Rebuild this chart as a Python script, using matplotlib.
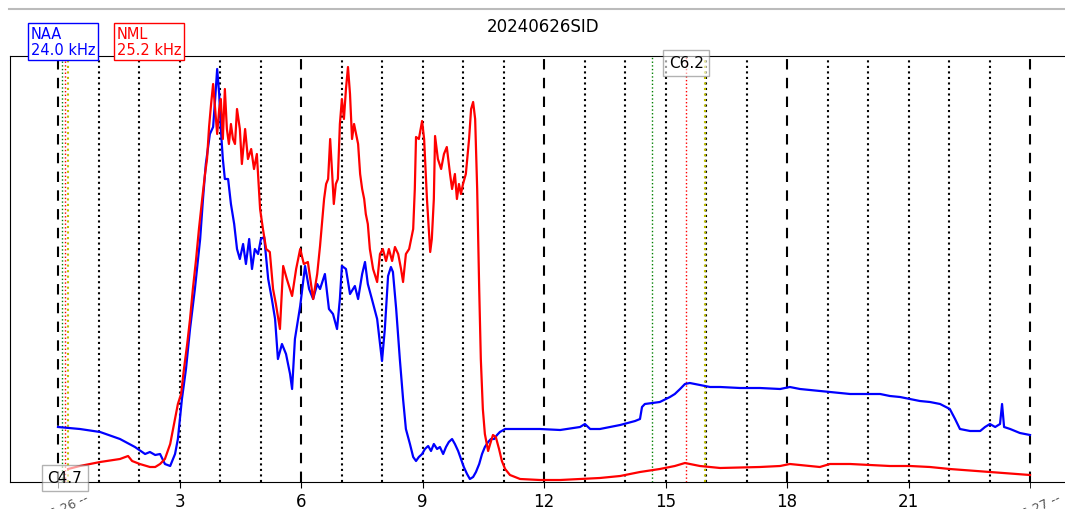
import numpy as np
import matplotlib
matplotlib.use('Agg')
import matplotlib.pyplot as plt
import matplotlib.transforms as mtransforms
from matplotlib.lines import Line2D

# NAA 24.0 kHz, hours UT / amplitude (arbitrary units)
naa_t = [0.00, 0.54, 1.04, 1.53, 1.90, 2.15, 2.27, 2.40, 2.52, 2.64, 2.77, 2.89, 2.96, 3.06, 3.16,
         3.26, 3.38, 3.51, 3.58, 3.65, 3.70, 3.75, 3.83, 3.88, 3.93, 3.98, 4.02, 4.07, 4.12, 4.20,
         4.27, 4.35, 4.42, 4.49, 4.57, 4.64, 4.72, 4.79, 4.86, 4.94, 5.01, 5.09, 5.19, 5.28, 5.36,
         5.43, 5.53, 5.63, 5.73, 5.78, 5.85, 5.98, 6.10, 6.20, 6.30, 6.40, 6.47, 6.59, 6.69, 6.79,
         6.89, 6.96, 7.01, 7.11, 7.21, 7.33, 7.41, 7.51, 7.58, 7.65, 7.75, 7.88, 7.95, 8.00, 8.07,
         8.15, 8.22, 8.27, 8.35, 8.44, 8.52, 8.59, 8.69, 8.77, 8.84, 8.91, 8.99, 9.06, 9.14, 9.21,
         9.28, 9.36, 9.43, 9.51, 9.58, 9.65, 9.73, 9.80, 9.88, 9.95, 10.02, 10.10, 10.17, 10.25,
         10.32, 10.40, 10.47, 10.54, 10.62, 10.69, 10.77, 10.84, 10.91, 11.04, 11.41, 11.90, 12.40,
         12.89, 13.01, 13.14, 13.38, 13.88, 14.25, 14.37, 14.42, 14.49, 14.86, 15.11, 15.23, 15.36,
         15.48, 15.60, 15.73, 15.85, 16.10, 16.35, 16.84, 17.33, 17.83, 18.07, 18.32, 18.81, 19.06,
         19.56, 20.30, 20.54, 20.79, 21.04, 21.28, 21.53, 21.78, 22.02, 22.15, 22.27, 22.52, 22.77,
         22.89, 23.01, 23.14, 23.26, 23.31, 23.36, 23.51, 23.75, 24.00]
naa_a = [55, 53, 50, 43, 35, 28, 30, 27, 28, 18, 16, 28, 43, 83, 113,
         153, 193, 243, 283, 318, 333, 348, 355, 383, 413, 388, 353, 323, 303, 303,
         278, 258, 233, 223, 238, 218, 243, 213, 233, 228, 243, 245, 203, 183, 163,
         123, 138, 128, 108, 93, 143, 176, 216, 193, 183, 198, 193, 208, 173, 168,
         153, 183, 216, 213, 188, 196, 183, 208, 220, 198, 183, 163, 138, 121, 153,
         206, 215, 210, 173, 123, 83, 53, 38, 25, 21, 25, 28, 33, 36, 31,
         38, 33, 35, 28, 35, 40, 43, 38, 31, 23, 15, 8, 3, 5,
         10, 18, 28, 35, 40, 43, 43, 47, 50, 53, 53, 53, 52,
         55, 58, 53, 53, 57, 61, 63, 75, 78, 80, 85, 88, 93,
         98, 99, 98, 97, 95, 95, 94, 94, 93, 95, 93, 91, 90,
         88, 88, 86, 85, 83, 81, 80, 78, 73, 63, 53, 51, 51,
         55, 58, 55, 58, 78, 55, 53, 49, 47]

# NML 25.2 kHz
nml_t = [0.25, 0.54, 1.04, 1.53, 1.73, 1.83, 2.02, 2.27, 2.40, 2.52, 2.64, 2.77, 2.89, 2.96, 3.04,
         3.11, 3.19, 3.26, 3.33, 3.41, 3.48, 3.56, 3.63, 3.68, 3.73, 3.78, 3.83, 3.88, 3.93, 3.98,
         4.02, 4.07, 4.12, 4.17, 4.22, 4.27, 4.32, 4.37, 4.42, 4.49, 4.54, 4.62, 4.69, 4.77, 4.84,
         4.91, 4.99, 5.06, 5.14, 5.23, 5.31, 5.38, 5.48, 5.56, 5.65, 5.78, 5.88, 5.98, 6.07, 6.17,
         6.30, 6.40, 6.47, 6.57, 6.62, 6.67, 6.72, 6.77, 6.81, 6.86, 6.91, 6.96, 7.01, 7.06, 7.11,
         7.16, 7.21, 7.26, 7.31, 7.36, 7.41, 7.46, 7.51, 7.56, 7.60, 7.65, 7.70, 7.78, 7.88, 7.95,
         8.02, 8.10, 8.17, 8.25, 8.32, 8.40, 8.47, 8.52, 8.59, 8.67, 8.72, 8.77, 8.81, 8.84, 8.91,
         8.99, 9.04, 9.11, 9.19, 9.23, 9.28, 9.31, 9.38, 9.46, 9.53, 9.60, 9.68, 9.73, 9.80, 9.85,
         9.90, 9.95, 10.00, 10.07, 10.15, 10.20, 10.25, 10.30, 10.35, 10.40, 10.44, 10.49, 10.54,
         10.62, 10.67, 10.74, 10.81, 10.89, 10.96, 11.04, 11.16, 11.41, 11.90, 12.40, 13.38, 13.88,
         14.37, 14.86, 15.23, 15.48, 15.85, 16.35, 17.33, 17.83, 18.07, 18.32, 18.81, 19.06, 19.56,
         20.54, 21.04, 21.53, 22.02, 23.01, 24.00]
nml_a = [13, 16, 20, 23, 26, 21, 18, 15, 15, 18, 23, 38, 63, 78, 88,
         113, 138, 163, 193, 223, 253, 283, 308, 323, 355, 378, 398, 373, 348, 373,
         383, 343, 393, 353, 338, 358, 343, 338, 373, 353, 318, 353, 323, 333, 313,
         328, 273, 253, 233, 230, 193, 178, 153, 216, 203, 186, 213, 233, 218, 220,
         183, 208, 236, 283, 298, 303, 343, 308, 278, 298, 303, 358, 383, 363, 393,
         415, 388, 343, 358, 348, 338, 308, 293, 283, 268, 258, 233, 213, 200, 228,
         233, 221, 233, 221, 235, 228, 213, 200, 228, 233, 243, 253, 293, 345, 343,
         361, 343, 283, 230, 243, 283, 346, 323, 313, 328, 335, 308, 293, 308, 283,
         298, 288, 298, 308, 343, 373, 380, 363, 293, 193, 123, 73, 48,
         31, 38, 47, 45, 33, 21, 13, 7, 3, 2, 2, 4, 6,
         10, 13, 16, 19, 16, 14, 15, 16, 18, 17, 15, 18, 18,
         16, 16, 15, 13, 10, 7]

# flares: start (green), peak (red), end (yellow)
flare_names = ['C4.7', 'C6.2']
flare_start = [0.10, 14.67]
flare_peak = [0.17, 15.51]
flare_end = [0.24, 15.98]
flare_label_y = [0.01, 0.984]

hour_ticks = [3, 6, 9, 12, 15, 18, 21]

fig = plt.figure(figsize=(10.65, 5.10), dpi=100)
ax = fig.add_axes([10 / 1065, 27 / 510, 1065 / 1065, 426 / 510])

for h in range(0, 25):
    if h % 6 == 0:
        ax.axvline(h, color='k', ls=(0, (5, 4)), lw=1.5, zorder=1)
    else:
        ax.axvline(h, color='k', ls=':', lw=1.5, zorder=1)

trans = mtransforms.blended_transform_factory(ax.transData, ax.transAxes)
for name, s, p, e, ly in zip(flare_names, flare_start, flare_peak, flare_end, flare_label_y):
    ax.axvline(s, color='g', ls=':', lw=1, zorder=1)
    ax.axvline(p, color='r', ls=':', lw=1, zorder=1)
    ax.axvline(e, color='y', ls=':', lw=1.5, zorder=1)
    ax.text(p, ly, name, transform=trans, ha='center', va='center', fontsize=11, zorder=5,
            bbox=dict(boxstyle='square,pad=0.35', fc='white', ec='gray', alpha=0.6))

ax.plot(naa_t, naa_a, color='blue', lw=1.6, zorder=3)
ax.plot(nml_t, nml_a, color='red', lw=1.6, zorder=3)

ax.set_xlim(-48 / 40.5, (1075 - 58) / 40.5)
ax.set_ylim(0, 426)
ax.set_yticks([])
ax.set_xticks(hour_ticks)
ax.set_xticklabels([str(h) for h in hour_ticks], fontsize=12)
ax.set_xticks([0, 24], minor=True)
ax.tick_params(axis='x', which='both', length=4)
for d, h in [('2024-06-26 --', 0), ('2024-06-27 --', 24)]:
    ax.text(h + 0.8, -0.02, d, transform=trans, ha='right', va='top', rotation=25,
            fontsize=9, color='#555555')

fig.text(543 / 1065, 1 - 27 / 510, '20240626SID', ha='center', va='center', fontsize=12)
fig.text(31 / 1065, 1 - 27 / 510, 'NAA\n24.0 kHz', ha='left', va='top', color='blue', fontsize=10.5,
         linespacing=1.05, bbox=dict(boxstyle='square,pad=0.2', fc='white', ec='blue'))
fig.text(117 / 1065, 1 - 27 / 510, 'NML\n25.2 kHz', ha='left', va='top', color='red', fontsize=10.5,
         linespacing=1.05, bbox=dict(boxstyle='square,pad=0.2', fc='white', ec='red'))
fig.add_artist(Line2D([9 / 1065, 1], [1 - 10 / 510, 1 - 10 / 510], color='#bbbbbb', lw=1.5))

fig.savefig('out.png', dpi=100)
